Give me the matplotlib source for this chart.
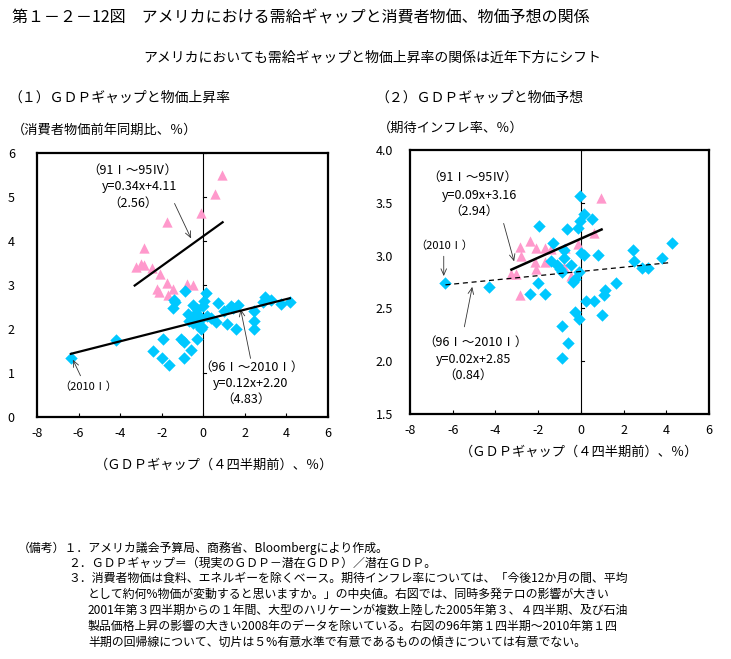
import matplotlib
matplotlib.use("Agg")
import matplotlib.pyplot as plt
import numpy as np

plt.rcParams['font.family'] = ['Noto Sans CJK JP', 'DejaVu Sans']
plt.rcParams['axes.unicode_minus'] = False

# ---- data ----
# left: GDP gap vs core CPI
left_old_x = [0.91, 0.58, -0.10, -1.73, -2.83, -3.26, -3.02, -2.83, -2.45, -2.06,
              -1.73, -2.25, -2.11, -1.44, -1.68, -0.77, -0.48]
left_old_y = [5.50, 5.07, 4.64, 4.43, 3.85, 3.42, 3.48, 3.46, 3.39, 3.24,
              3.05, 2.90, 2.83, 2.90, 2.78, 3.03, 3.01]
left_new_x = [-6.37, -4.22, -2.40, -1.98, -1.66, -1.95, -1.07, -0.91, -0.91, -0.59,
              -0.32, -0.88, 0.13, -1.39, -1.47, -0.51, 0.05, 0.69, -0.03, -0.75,
              -0.35, -0.19, -0.27, -0.11, -0.51, 0.37, 0.61, 1.01, 1.33, 1.65,
              1.12, 1.57, 2.45, 2.45, 2.45, 2.97, 3.25, 3.73, 4.16, 2.85,
              -1.36, -0.43, -0.67, -0.15, 0.20, -0.05, -0.30, 1.44]
left_new_y = [1.35, 1.75, 1.49, 1.33, 1.18, 1.78, 1.78, 1.71, 1.33, 1.52,
              1.78, 2.87, 2.81, 2.67, 2.48, 2.54, 2.63, 2.59, 2.52, 2.33,
              2.37, 2.29, 2.10, 2.01, 2.14, 2.26, 2.16, 2.40, 2.52, 2.54,
              2.12, 1.99, 2.40, 2.19, 2.01, 2.73, 2.67, 2.56, 2.61, 2.62,
              2.62, 2.22, 2.18, 2.20, 2.30, 2.05, 2.45, 2.48]

# right: GDP gap vs expected inflation
right_old_x = [0.94, 0.63, -0.13, -2.39, -2.83, -2.78, -2.08, -1.69, -1.38, -0.75,
               -2.16, -2.11, -1.69, -3.25, -3.05, -2.83, -0.44, -0.80]
right_old_y = [3.55, 3.21, 3.11, 3.14, 3.08, 3.00, 3.07, 3.07, 3.06, 3.07,
               2.94, 2.87, 2.94, 2.83, 2.83, 2.63, 2.81, 2.89]
right_new_x = [-6.34, -4.31, -1.95, -1.30, -0.63, -0.02, 0.14, 0.50, -0.05, -0.13,
               0.03, 0.16, 0.78, -0.78, -0.80, -1.41, -1.14, -0.98, -0.88, -0.47,
               -0.08, -0.28, -0.36, -2.00, -2.36, -1.66, 0.23, 0.63, 1.13, 1.08,
               1.63, 1.00, -0.28, -0.08, -0.88, -0.59, -0.88, 2.45, 2.50, 2.88,
               3.16, 3.81, 4.25]
right_new_y = [2.74, 2.70, 3.28, 3.12, 3.25, 3.56, 3.39, 3.35, 3.33, 3.26,
               3.02, 3.01, 3.01, 3.05, 2.98, 2.95, 2.91, 2.87, 2.84, 2.91,
               2.84, 2.78, 2.75, 2.74, 2.64, 2.64, 2.57, 2.57, 2.67, 2.63,
               2.74, 2.44, 2.47, 2.40, 2.33, 2.17, 2.03, 3.05, 2.95, 2.88,
               2.88, 2.98, 3.12]

# regression fits (slope, intercept, x range)
left_fit_old = (0.34, 4.11, -3.3, 0.93)
left_fit_new = (0.12, 2.20, -6.37, 4.16)
right_fit_old = (0.09, 3.16, -3.25, 0.97)
right_fit_new = (0.02, 2.85, -6.34, 4.16)

x_ticks = [-8, -6, -4, -2, 0, 2, 4, 6]
left_y_ticks = [0, 1, 2, 3, 4, 5, 6]
right_y_ticks = [1.5, 2.0, 2.5, 3.0, 3.5, 4.0]

BLUE = '#00c8ff'
PINK = '#ff99cc'
W, H = 731, 659

fig = plt.figure(figsize=(W / 100, H / 100), dpi=100)


def fig_text(px, py, s, **kw):
    fig.text(px / W, 1 - py / H, s, va='center', **kw)


def make_axes(rect, ylim, yticks, ylabels, tick_len, ypad):
    ax = fig.add_axes(rect)
    ax.set_xlim(-8, 6)
    ax.set_ylim(*ylim)
    ax.set_xticks(x_ticks)
    ax.set_yticks(yticks)
    ax.set_yticklabels(ylabels)
    ax.tick_params(axis='x', direction='in', length=3, width=0.8, labelsize=9, pad=7)
    ax.tick_params(axis='y', length=0, labelsize=9, pad=ypad)
    for sp in ax.spines.values():
        sp.set_linewidth(1.6)
    ax.axvline(0, color='black', lw=0.8, zorder=1)
    for yt in yticks:
        ax.plot([0, tick_len], [yt, yt], color='black', lw=0.8, zorder=1)
    return ax


def fit_line(ax, fit, **kw):
    a, b, x0, x1 = fit
    xs = np.array([x0, x1])
    ax.plot(xs, a * xs + b, **kw)


def arrow(ax, tail, head):
    ax.annotate('', xy=head, xytext=tail,
                arrowprops=dict(arrowstyle='->,head_length=0.45,head_width=0.2',
                                lw=0.6, color='#333333'))


# ---- left panel ----
axl = make_axes([37 / W, 1 - 417 / H, 291 / W, 264 / H], (0, 6), left_y_ticks,
                [str(v) for v in left_y_ticks], 0.15, 16)
axl.scatter(left_old_x, left_old_y, marker='^', s=55, color=PINK, zorder=3, linewidths=0)
axl.scatter(left_new_x, left_new_y, marker='D', s=40, color=BLUE, zorder=3, linewidths=0)
fit_line(axl, left_fit_old, color='black', lw=1.6, zorder=4)
fit_line(axl, left_fit_new, color='black', lw=1.6, zorder=4)

axl.text(-5.56, 5.61, '（91Ⅰ～95Ⅳ）', fontsize=9, va='center')
axl.text(-4.89, 5.23, 'y=0.34x+4.11', fontsize=9, va='center')
axl.text(-4.56, 4.86, '（2.56）', fontsize=9, va='center')
arrow(axl, (-1.44, 4.91), (-0.53, 4.00))
axl.text(-5.52, 0.68, '（2010Ⅰ）', fontsize=8, va='center', ha='center')
arrow(axl, (-5.85, 0.88), (-6.33, 1.36))
axl.text(-0.19, 1.13, '（96Ⅰ～2010Ⅰ）', fontsize=9, va='center')
axl.text(0.48, 0.75, 'y=0.12x+2.20', fontsize=9, va='center')
axl.text(0.86, 0.41, '（4.83）', fontsize=9, va='center')
arrow(axl, (2.30, 1.27), (1.77, 2.51))

# ---- right panel ----
axr = make_axes([410 / W, 1 - 414 / H, 299 / W, 264 / H], (1.5, 4.0), right_y_ticks,
                ['%.1f' % v for v in right_y_ticks], 0.14, 12)
axr.scatter(right_old_x, right_old_y, marker='^', s=55, color=PINK, zorder=3, linewidths=0)
axr.scatter(right_new_x, right_new_y, marker='D', s=40, color=BLUE, zorder=3, linewidths=0)
fit_line(axr, right_fit_old, color='black', lw=1.8, zorder=4)
fit_line(axr, right_fit_new, color='black', lw=0.9, ls=(0, (4, 3)), zorder=4)

axr.text(-7.17, 3.74, '（91Ⅰ～95Ⅳ）', fontsize=9, va='center')
axr.text(-6.51, 3.57, 'y=0.09x+3.16', fontsize=9, va='center')
axr.text(-6.14, 3.42, '（2.94）', fontsize=9, va='center')
arrow(axr, (-3.65, 3.33), (-3.09, 2.92))
axr.text(-6.42, 3.09, '（2010Ⅰ）', fontsize=8, va='center', ha='center')
arrow(axr, (-6.42, 3.02), (-6.42, 2.78))
axr.text(-7.40, 2.18, '（96Ⅰ～2010Ⅰ）', fontsize=9, va='center')
axr.text(-6.79, 2.02, 'y=0.02x+2.85', fontsize=9, va='center')
axr.text(-6.46, 1.87, '（0.84）', fontsize=9, va='center')
arrow(axr, (-5.48, 2.30), (-5.06, 2.73))

# ---- titles and labels ----
fig_text(12, 18, '第１－２－12図　アメリカにおける需給ギャップと消費者物価、物価予想の関係', fontsize=11.5)
fig_text(143, 58, 'アメリカにおいても需給ギャップと物価上昇率の関係は近年下方にシフト', fontsize=10)
fig_text(8, 98, '（１）ＧＤＰギャップと物価上昇率', fontsize=10)
fig_text(375, 98, '（２）ＧＤＰギャップと物価予想', fontsize=10)
fig_text(12, 130, '（消費者物価前年同期比、％）', fontsize=9.5)
fig_text(378, 128, '（期待インフレ率、％）', fontsize=9.5)
fig_text(95, 465, '（ＧＤＰギャップ（４四半期前）、％）', fontsize=9.5)
fig_text(460, 452, '（ＧＤＰギャップ（４四半期前）、％）', fontsize=9.5)

notes = [
    (18, 548, '（備考）１．アメリカ議会予算局、商務省、Bloombergにより作成。'),
    (68, 563, '２．ＧＤＰギャップ＝（現実のＧＤＰ－潜在ＧＤＰ）／潜在ＧＤＰ。'),
    (68, 578, '３．消費者物価は食料、エネルギーを除くベース。期待インフレ率については、「今後12か月の間、平均'),
    (88, 594, 'として約何%物価が変動すると思いますか。」の中央値。右図では、同時多発テロの影響が大きい'),
    (88, 610, '2001年第３四半期からの１年間、大型のハリケーンが複数上陸した2005年第３、４四半期、及び石油'),
    (88, 626, '製品価格上昇の影響の大きい2008年のデータを除いている。右図の96年第１四半期～2010年第１四'),
    (88, 642, '半期の回帰線について、切片は５%有意水準で有意であるものの傾きについては有意でない。'),
]
for px, py, s in notes:
    fig_text(px, py, s, fontsize=8.6)

fig.savefig('out.png', dpi=100)
